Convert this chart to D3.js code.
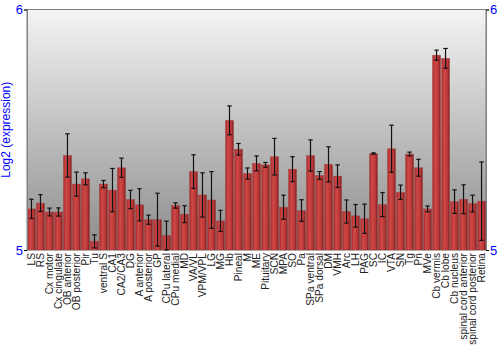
<!DOCTYPE html>
<html><head><meta charset="utf-8">
<script src="https://cdn.jsdelivr.net/npm/d3@7/dist/d3.min.js"></script>
<style>body{margin:0;background:#fff}svg{display:block}</style>
</head><body>
<script>
const categories = ["LS","RS","Cx motor","Cx cingulate","OB anterior","OB posterior","Pir","Tu","ventral S","CA1","CA2/CA3","DG","A anterior","A posterior","GP","CPu lateral","CPu medial","MD","VA/VL","VPM/VPL","LG","MG","Hb","Pineal","M","ME","Pituitary","SCN","MPA","SO","Pa","SPa ventral","SPa dorsal","DM","VMH","Arc","LH","PAG","SC","IC","VTA","SN","Tg","Pn","MVe","Cb vermis","Cb lobe","Cb nucleus","spinal cord anterior","spinal cord posterior","Retina"];
const values = [5.171,5.195,5.158,5.158,5.393,5.274,5.296,5.036,5.274,5.249,5.342,5.210,5.188,5.126,5.126,5.060,5.185,5.149,5.326,5.229,5.208,5.121,5.539,5.419,5.318,5.360,5.354,5.388,5.178,5.336,5.164,5.393,5.310,5.356,5.307,5.160,5.142,5.130,5.401,5.189,5.421,5.240,5.399,5.342,5.171,5.810,5.797,5.201,5.211,5.193,5.203];
const errors = [0.040,0.035,0.016,0.017,0.090,0.050,0.025,0.027,0.015,0.090,0.040,0.038,0.067,0.019,0.110,0.060,0.011,0.035,0.070,0.092,0.118,0.044,0.060,0.024,0.023,0.031,0.010,0.076,0.050,0.052,0.045,0.065,0.016,0.073,0.047,0.048,0.047,0.061,0.003,0.050,0.098,0.030,0.008,0.035,0.012,0.021,0.041,0.049,0.060,0.035,0.163];
const yTicks = [5, 6];

const W = 500, H = 350;
const m = {left: 27, right: 14, top: 9.5, bottom: 100};
const svg = d3.select("body").append("svg").attr("width", W).attr("height", H);
const defs = svg.append("defs");
const bg = defs.append("linearGradient").attr("id","bg").attr("x1",0).attr("y1",0).attr("x2",0).attr("y2",1);
bg.append("stop").attr("offset","0%").attr("stop-color","#f4f4f4");
bg.append("stop").attr("offset","100%").attr("stop-color","#8c8c8c");
const bar = defs.append("linearGradient").attr("id","bar").attr("x1",0).attr("y1",0).attr("x2",1).attr("y2",0);
bar.append("stop").attr("offset","0%").attr("stop-color","#a82a2a");
bar.append("stop").attr("offset","35%").attr("stop-color","#d04848");
bar.append("stop").attr("offset","75%").attr("stop-color","#b83636");
bar.append("stop").attr("offset","100%").attr("stop-color","#7a1c1c");

const x = d3.scaleBand().domain(categories).range([m.left, W - m.right]).paddingInner(0.11).paddingOuter(0.05);
const y = d3.scaleLinear().domain([5, 6]).range([H - m.bottom, m.top]);

svg.append("rect").attr("x", m.left).attr("y", m.top).attr("width", W - m.right - m.left)
  .attr("height", H - m.bottom - m.top).attr("fill","url(#bg)").attr("stroke","#808080").attr("stroke-width",1);

const g = svg.append("g");
categories.forEach((c, i) => {
  const v = values[i], e = errors[i];
  g.append("rect").attr("x", x(c)).attr("y", y(v)).attr("width", x.bandwidth())
    .attr("height", y(5) - y(v)).attr("fill","url(#bar)").attr("stroke","rgba(160,60,60,0.6)").attr("stroke-width",0.6);
  const cx = x(c) + x.bandwidth()/2;
  g.append("line").attr("x1",cx).attr("x2",cx).attr("y1",y(v+e)).attr("y2",y(Math.max(5,v-e))).attr("stroke","#111").attr("stroke-width",1.2);
  [v+e, v-e].forEach(t => { if (t >= 5) g.append("line").attr("x1",cx-2.2).attr("x2",cx+2.2).attr("y1",y(t)).attr("y2",y(t)).attr("stroke","#111").attr("stroke-width",1.2); });
});

// axes
const left = svg.append("g").attr("transform",`translate(${m.left},0)`).call(d3.axisLeft(y).tickValues(yTicks).tickFormat(d3.format("d")).tickSize(3));
const right = svg.append("g").attr("transform",`translate(${W-m.right},0)`).call(d3.axisRight(y).tickValues(yTicks).tickFormat(d3.format("d")).tickSize(3));
[left, right].forEach(a => {
  a.select(".domain").attr("stroke","#808080");
  a.selectAll(".tick line").attr("stroke","#000");
  a.selectAll("text").attr("fill","#0000ff").attr("font-family","Liberation Sans, Arial, sans-serif").attr("font-size",13);
});
left.selectAll("text").attr("x",-4);
right.selectAll("text").attr("x",4);

svg.append("text").attr("transform",`translate(10,${(m.top + H - m.bottom)/2}) rotate(-90)`)
  .attr("text-anchor","middle").attr("fill","#0000ff").attr("font-family","Liberation Sans, Arial, sans-serif").attr("font-size",12)
  .text("Log2 (expression)");

const xa = svg.append("g").attr("transform",`translate(0,${H-m.bottom})`).call(d3.axisBottom(x).tickSize(0));
xa.select(".domain").remove();
xa.selectAll("text").attr("transform","rotate(-90)").attr("text-anchor","end").attr("dy","0.35em").attr("x",-3).attr("y",0)
  .attr("fill","#222").attr("font-family","Liberation Sans, Arial, sans-serif").attr("font-size",10.2);
</script>
</body></html>
